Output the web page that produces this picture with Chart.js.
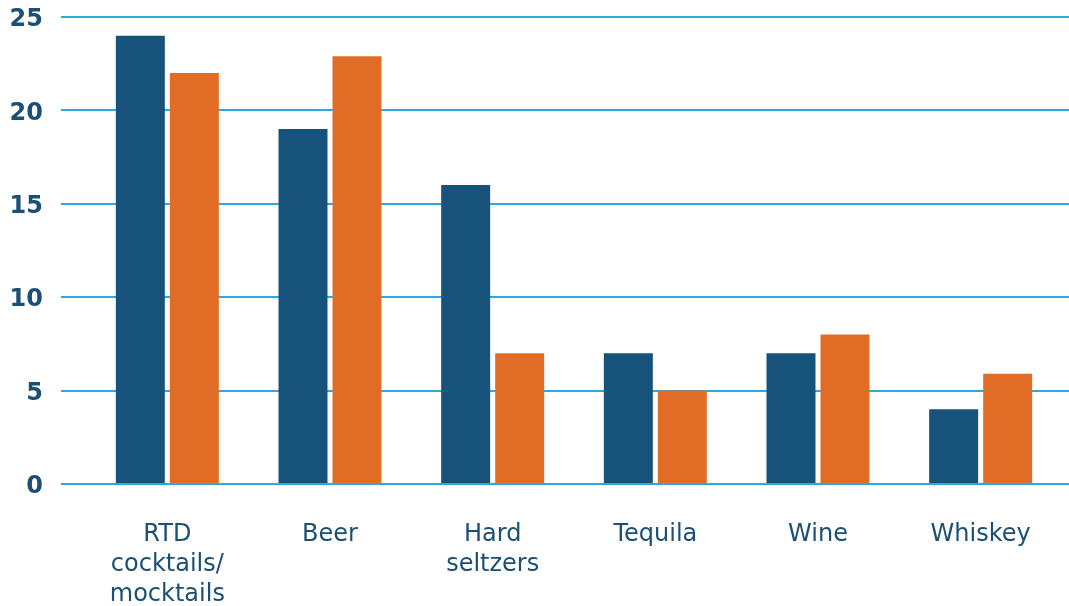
<!DOCTYPE html>
<html>
<head>
<meta charset="utf-8">
<script src="https://cdn.jsdelivr.net/npm/chart.js@4"></script>
<style>
    html, body { margin: 0; padding: 0; background: #ffffff; }
    #wrap { width: 1069px; height: 606px; position: relative; }
</style>
</head>
<body>
<div id="wrap"><canvas id="drinks-chart"></canvas></div>
<script>
// Chart data
const categories = [
    ['RTD', 'cocktails/', 'mocktails'],
    'Beer',
    ['Hard', 'seltzers'],
    'Tequila',
    'Wine',
    'Whiskey'
];
const seriesA = [24, 19, 16, 7, 7, 4];
const seriesB = [22, 22.9, 7, 5, 8, 5.9];
const yTicks = [0, 5, 10, 15, 20, 25];

const BLUE = '#16527a';
const ORANGE = '#e06c25';
const GRID = '#29abe2';
const TEXT = '#1b4f73';

// stretch the horizontal grid lines to the right edge of the canvas
const gridToEdge = {
    id: 'gridToEdge',
    beforeDatasetsDraw(chart) {
        const { ctx, chartArea, scales } = chart;
        ctx.save();
        ctx.strokeStyle = GRID;
        ctx.lineWidth = 2;
        yTicks.forEach(v => {
            const y = Math.round(scales.y.getPixelForValue(v));
            ctx.beginPath();
            ctx.moveTo(chartArea.right - 2, y);
            ctx.lineTo(chart.width, y);
            ctx.stroke();
        });
        ctx.restore();
    }
};

new Chart(document.getElementById('drinks-chart'), {
    type: 'bar',
    data: {
        labels: categories,
        datasets: [
            { label: 'Series A', data: seriesA, backgroundColor: BLUE },
            { label: 'Series B', data: seriesB, backgroundColor: ORANGE }
        ]
    },
    options: {
        responsive: true,
        maintainAspectRatio: false,
        animation: false,
        datasets: {
            bar: { categoryPercentage: 0.664, barPercentage: 0.907 }
        },
        layout: { padding: { top: 17, right: 7, left: 0, bottom: 0 } },
        scales: {
            x: {
                afterFit(scale) { scale.height = 122; },
                grid: { display: false },
                border: { display: false },
                ticks: {
                    color: TEXT,
                    padding: 28,
                    maxRotation: 0,
                    autoSkip: false,
                    font: { family: 'DejaVu Sans', size: 24, lineHeight: 1.25 }
                }
            },
            y: {
                min: 0,
                max: 25,
                afterFit(scale) {
                    scale.width = 86;
                    scale.paddingTop = 0;
                    scale.paddingBottom = 0;
                },
                afterBuildTicks(scale) { scale.ticks = yTicks.map(v => ({ value: v })); },
                grid: { color: GRID, lineWidth: 2, tickLength: 25, drawTicks: true },
                border: { display: false },
                ticks: {
                    color: TEXT,
                    padding: 18,
                    labelOffset: 3,
                    font: { family: 'DejaVu Sans', size: 24, weight: 'bold' }
                }
            }
        },
        plugins: {
            legend: { display: false },
            tooltip: { enabled: false }
        }
    },
    plugins: [gridToEdge]
});
</script>
</body>
</html>
